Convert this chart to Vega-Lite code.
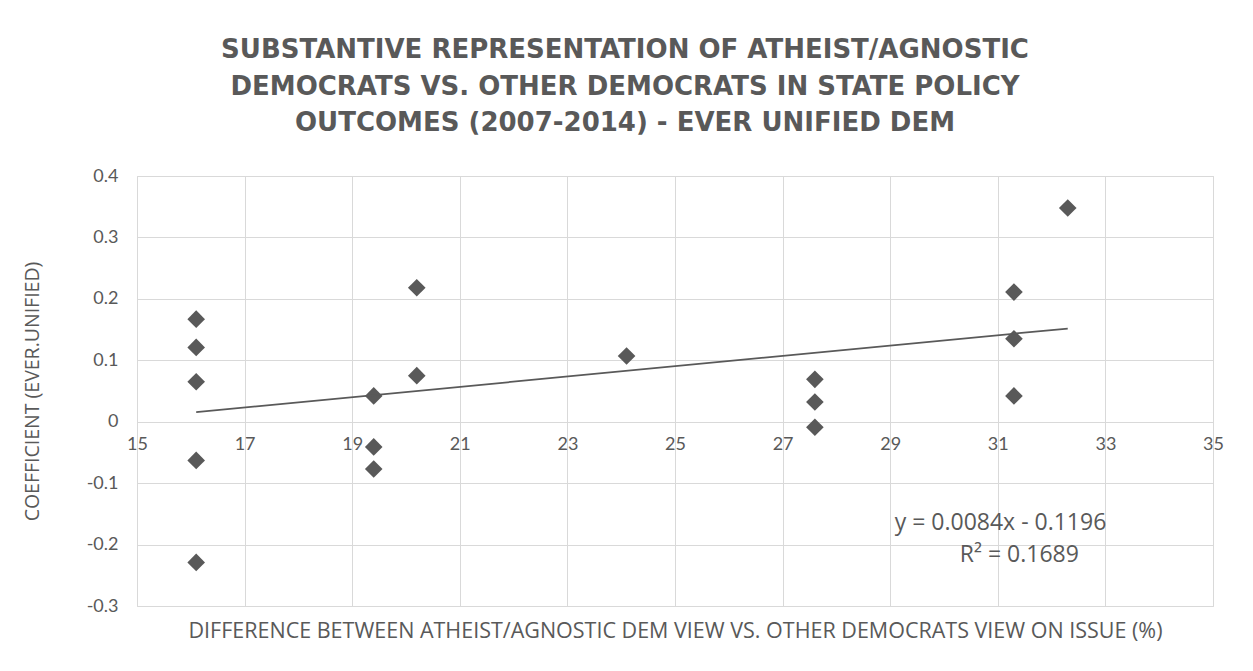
{
  "$schema": "https://vega.github.io/schema/vega-lite/v6.json",
  "width": 1076,
  "height": 430,
  "autosize": {"type": "none"},
  "padding": {"left": 137, "top": 176, "right": 40, "bottom": 65},
  "background": "white",
  "config": {
    "view": {"stroke": "#d9d9d9", "strokeWidth": 1},
    "font": "Open Sans"
  },
  "title": {
    "text": ["SUBSTANTIVE REPRESENTATION OF ATHEIST/AGNOSTIC", "DEMOCRATS VS. OTHER DEMOCRATS IN STATE POLICY", "OUTCOMES (2007-2014) - EVER UNIFIED DEM"],
    "font": "DejaVu Sans",
    "fontSize": 26,
    "fontWeight": "bold",
    "color": "#595959",
    "lineHeight": 36.5,
    "anchor": "middle",
    "dx": -50,
    "offset": 31
  },
  "datasets": {
    "points": [
      {"diff": 16.1, "coef": 0.167},
      {"diff": 16.1, "coef": 0.121},
      {"diff": 16.1, "coef": 0.065},
      {"diff": 16.1, "coef": -0.063},
      {"diff": 16.1, "coef": -0.229},
      {"diff": 19.4, "coef": 0.042},
      {"diff": 19.4, "coef": -0.041},
      {"diff": 19.4, "coef": -0.077},
      {"diff": 20.2, "coef": 0.218},
      {"diff": 20.2, "coef": 0.075},
      {"diff": 24.1, "coef": 0.107},
      {"diff": 27.6, "coef": 0.069},
      {"diff": 27.6, "coef": 0.032},
      {"diff": 27.6, "coef": -0.009},
      {"diff": 31.3, "coef": 0.211},
      {"diff": 31.3, "coef": 0.135},
      {"diff": 31.3, "coef": 0.042},
      {"diff": 32.3, "coef": 0.348}
    ],
    "trend": [
      {"diff": 16.1, "coef": 0.0156},
      {"diff": 32.3, "coef": 0.1517}
    ],
    "labels": [
      {"diff": 31.05, "coef": -0.165, "label": "y = 0.0084x - 0.1196"},
      {"diff": 31.4, "coef": -0.217, "label": "R² = 0.1689"}
    ]
  },
  "encoding": {
    "x": {
      "field": "diff",
      "type": "quantitative",
      "scale": {"domain": [15, 35], "nice": false, "zero": false},
      "axis": {
        "title": "DIFFERENCE BETWEEN ATHEIST/AGNOSTIC DEM VIEW VS. OTHER DEMOCRATS VIEW ON ISSUE (%)",
        "values": [15, 17, 19, 21, 23, 25, 27, 29, 31, 33, 35],
        "offset": -184,
        "domain": false,
        "ticks": false,
        "labelPadding": 13,
        "labelFontSize": 18,
        "labelColor": "#595959",
        "labelFont": "Lato",
        "titleFont": "Open Sans",
        "titleFontSize": 21.5,
        "titleFontWeight": "normal",
        "titleColor": "#595959",
        "titlePadding": 167,
        "gridColor": "#d9d9d9",
        "gridWidth": 1,
        "labelFlush": false
      }
    },
    "y": {
      "field": "coef",
      "type": "quantitative",
      "scale": {"domain": [-0.3, 0.4], "nice": false, "zero": false},
      "axis": {
        "title": "COEFFICIENT (EVER.UNIFIED)",
        "values": [-0.3, -0.2, -0.1, 0, 0.1, 0.2, 0.3, 0.4],
        "labelExpr": "replace(format(datum.value, '.1~f'), '\u2212', '-')",
        "domain": false,
        "ticks": false,
        "labelPadding": 19,
        "labelFontSize": 18,
        "labelColor": "#595959",
        "labelFont": "Lato",
        "titleFont": "Open Sans",
        "titleFontSize": 19.5,
        "titleFontWeight": "normal",
        "titleColor": "#595959",
        "titlePadding": 44,
        "gridColor": "#d9d9d9",
        "gridWidth": 1
      }
    }
  },
  "layer": [
    {
      "data": {"name": "points"},
      "mark": {"type": "point", "shape": "diamond", "filled": true, "size": 310, "color": "#595959", "opacity": 1}
    },
    {
      "data": {"name": "trend"},
      "mark": {"type": "line", "color": "#595959", "strokeWidth": 1.75}
    },
    {
      "data": {"name": "labels"},
      "mark": {"type": "text", "fontSize": 23, "font": "Open Sans", "color": "#595959", "align": "center", "baseline": "middle"},
      "encoding": {
        "text": {"field": "label", "type": "nominal"}
      }
    }
  ]
}
